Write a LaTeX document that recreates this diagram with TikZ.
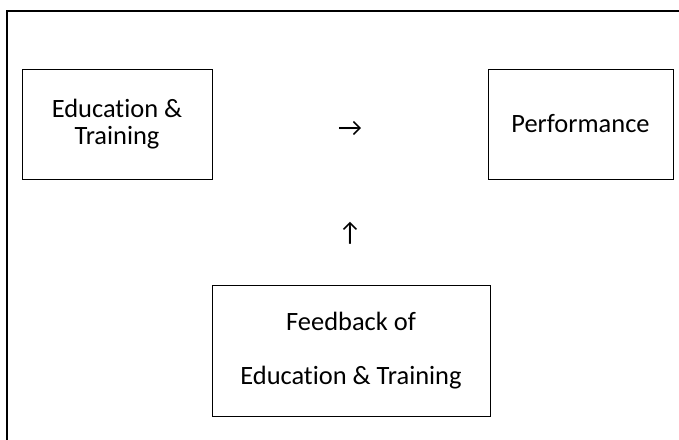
\documentclass[tikz,border=0pt]{standalone}
\usepackage{fontspec}
\setmainfont{Carlito}[Ligatures=NoCommon]
\tikzset{
  blk/.style={draw, line width=0.7pt, align=center, inner sep=0pt,
    font=\fontsize{18.8}{19.2}\selectfont, minimum width=#1},
  blk/.default={4.75cm},
  sym/.style={inner sep=0pt, font=\fontsize{18.8}{19.2}\selectfont},
  outer/.style={line width=1.4pt},
}

\begin{document}
\begin{tikzpicture}
% --- page area, the frame runs past its right and bottom edges
\clip (0,0) rectangle (16.975,11);
\draw[outer] (0.175,-1) rectangle (18,10.725);
% --- top row
\node[blk, minimum height=2.75cm] (edu) at (2.925,7.9) {Education \&\\Training};
\node[blk=4.625cm, minimum height=2.75cm] (perf) at (14.5125,7.9) {Performance};
\node[sym] (toright) at (8.75,7.775) {→};
% --- feedback below
\node[blk=6.95cm, minimum height=3.275cm, font=\fontsize{18.8}{38}\selectfont] (fb) at (8.775,2.2375) {Feedback of\\Education \& Training};
\node[sym] (toup) at (8.75,5.175) {↑};
\end{tikzpicture}
\end{document}
